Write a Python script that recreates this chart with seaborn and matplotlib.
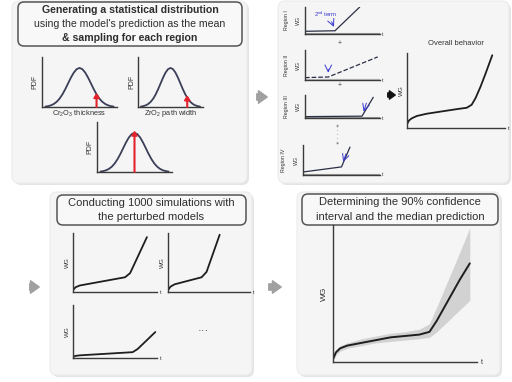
import matplotlib
matplotlib.use("Agg")
import matplotlib.pyplot as plt
import seaborn as sns
from matplotlib.patches import FancyBboxPatch

pdf_x = [-3.0, -2.75, -2.5, -2.25, -2.0, -1.75, -1.5, -1.25, -1.0, -0.75, -0.5, -0.25, 0.0,
         0.25, 0.5, 0.75, 1.0, 1.25, 1.5, 1.75, 2.0, 2.25, 2.5, 2.75, 3.0]
pdf_y = [0.011, 0.023, 0.044, 0.080, 0.135, 0.216, 0.325, 0.458, 0.607, 0.755, 0.882, 0.969, 1.0,
         0.969, 0.882, 0.755, 0.607, 0.458, 0.325, 0.216, 0.135, 0.080, 0.044, 0.023, 0.011]
pdf_labels = ["Cr$_2$O$_3$ thickness", "ZrO$_2$ path width", ""]
sample_pos = [1.5, 1.7, 0.0]
sample_height = [0.36, 0.30, 1.06]

region_names = ["Region I", "Region II", "Region III", "Region IV"]
region_x = [[0.0, 0.40, 0.73], [0.0, 0.31, 0.97], [0.0, 0.76, 0.91], [0.0, 0.50, 0.61]]
region_y = [[0.10, 0.12, 1.0], [0.08, 0.10, 0.77], [0.06, 0.08, 0.90], [0.10, 0.27, 0.93]]
region_base = [0.03, 0.05, 0.04, 0.04]

overall_x = [0.0, 0.02, 0.05, 0.1, 0.2, 0.3, 0.4, 0.5, 0.61, 0.66, 0.7, 0.75, 0.8, 0.87]
overall_y = [0.05, 0.10, 0.13, 0.16, 0.19, 0.21, 0.23, 0.25, 0.27, 0.31, 0.40, 0.55, 0.72, 0.97]

sim_x = [[0.0, 0.03, 0.08, 0.62, 0.68, 0.88],
         [0.0, 0.03, 0.08, 0.41, 0.47, 0.63],
         [0.0, 0.03, 0.08, 0.71, 0.77, 0.98]]
sim_y = [[0.03, 0.08, 0.11, 0.25, 0.32, 0.93],
         [0.03, 0.09, 0.13, 0.25, 0.34, 0.97],
         [0.02, 0.04, 0.05, 0.11, 0.17, 0.49]]

ci_x = [0.0, 0.02, 0.05, 0.1, 0.2, 0.3, 0.4, 0.5, 0.6, 0.67, 0.72, 0.8, 0.88, 0.95]
ci_med = [0.02, 0.07, 0.10, 0.12, 0.14, 0.16, 0.18, 0.19, 0.20, 0.22, 0.30, 0.45, 0.60, 0.72]
ci_up = [0.03, 0.09, 0.12, 0.14, 0.17, 0.19, 0.21, 0.22, 0.24, 0.28, 0.40, 0.60, 0.80, 0.98]
ci_lo = [0.01, 0.05, 0.08, 0.10, 0.12, 0.14, 0.15, 0.16, 0.17, 0.18, 0.22, 0.30, 0.38, 0.45]

W, H = 512, 382
LINE = "#1e1e1e"
AXC = "#3a3a3a"
TXT = "#333333"

sns.set_theme(style="white")
plt.rcParams["font.family"] = ["Liberation Sans", "DejaVu Sans"]
plt.rcParams["mathtext.default"] = "regular"

fig = plt.figure(figsize=(W / 100, H / 100), dpi=100)
fig.patch.set_facecolor("white")

bg = fig.add_axes([0, 0, 1, 1])
bg.set_xlim(0, W)
bg.set_ylim(H, 0)
bg.axis("off")


def panel(x0, y0, x1, y1):
    bg.add_patch(FancyBboxPatch((x0 + 2, y0 + 2), x1 - x0, y1 - y0,
                                boxstyle="round,pad=0,rounding_size=7",
                                fc="#e4e4e4", ec="none", zorder=0))
    bg.add_patch(FancyBboxPatch((x0, y0), x1 - x0, y1 - y0,
                                boxstyle="round,pad=0,rounding_size=7",
                                fc="#f5f5f5", ec="#ececec", lw=0.8, zorder=1))


def title_box(x0, y0, x1, y1, lines, weights, size):
    bg.add_patch(FancyBboxPatch((x0, y0), x1 - x0, y1 - y0,
                                boxstyle="round,pad=0,rounding_size=6",
                                fc="#f8f8f8", ec="#555555", lw=1.1, zorder=2))
    n = len(lines)
    step = (y1 - y0) / (n + 0.1)
    for i, (txt, w) in enumerate(zip(lines, weights)):
        bg.text((x0 + x1) / 2, y0 + step * (i + 0.55), txt, ha="center", va="center",
                fontsize=size, fontweight=w, color="#2e2e2e", zorder=3)


def block_arrow(x0, x1, y, color="#a0a0a0", scale=9):
    bg.annotate("", xy=(x1, y), xytext=(x0, y),
                arrowprops=dict(arrowstyle="simple,head_width=1.0,head_length=0.7,tail_width=0.5",
                                color=color, mutation_scale=scale), zorder=3)


def px_axes(x0, y0, x1, y1):
    ax = fig.add_axes([x0 / W, 1 - y1 / H, (x1 - x0) / W, (y1 - y0) / H])
    ax.set_facecolor("none")
    for s in ["top", "right"]:
        ax.spines[s].set_visible(False)
    for s in ["left", "bottom"]:
        ax.spines[s].set_color(AXC)
        ax.spines[s].set_linewidth(1.0)
    ax.set_xticks([])
    ax.set_yticks([])
    ax.set_xlim(0, 1)
    ax.set_ylim(0, 1)
    return ax


def y_text(ax, label, size, off=-0.09):
    ax.text(off, 0.5, label, transform=ax.transAxes, rotation=90, ha="center", va="center",
            fontsize=size, color=TXT)


def t_label(ax, size=4):
    ax.text(1.03, 0, "t", transform=ax.transAxes, ha="left", va="center", fontsize=size, color=TXT)


# panels
panel(12, 1, 247, 183)
panel(278, 1, 509, 183)
panel(50, 192, 252, 375)
panel(297, 192, 500, 375)

title_box(18, 2, 242, 46,
          ["Generating a statistical distribution",
           "using the model's prediction as the mean",
           "& sampling for each region"],
          ["bold", "normal", "bold"], 7.6)
title_box(57, 195, 246, 225,
          ["Conducting 1000 simulations with", "the perturbed models"],
          ["normal", "normal"], 8)
title_box(302, 194, 498, 225,
          ["Determining the 90% confidence", "interval and the median prediction"],
          ["normal", "normal"], 8)

block_arrow(254, 270, 97)
block_arrow(27, 42, 287)
block_arrow(266, 284, 287)
block_arrow(385, 398, 95, color="#111111", scale=6)

# ---- PDF panels ----
pdf_boxes = [(42, 57, 117, 107), (138, 57, 203, 107), (97, 122, 172, 172)]
for (x0, y0, x1, y1), lab, sp, sh in zip(pdf_boxes, pdf_labels, sample_pos, sample_height):
    ax = px_axes(x0, y0, x1, y1)
    ax.set_xlim(-3.3, 3.3)
    ax.set_ylim(0, 1.28)
    sns.lineplot(x=pdf_x, y=pdf_y, ax=ax, color="#3b3f58", lw=1.3)
    ax.annotate("", xy=(sp, sh), xytext=(sp, 0),
                arrowprops=dict(arrowstyle="-|>,head_width=0.2,head_length=0.3",
                                color="#e3222b", lw=1.5, mutation_scale=8,
                                shrinkA=0, shrinkB=0))
    y_text(ax, "PDF", 5, off=-0.09)
    if lab:
        ax.text(0.5, -0.13, lab, transform=ax.transAxes, ha="center", va="center",
                fontsize=5.3, color=TXT)

# ---- region panels ----
region_boxes = [(305, 7, 380, 34), (305, 50, 380, 80), (305, 95, 380, 118), (303, 145, 380, 175)]
for i, ((x0, y0, x1, y1), name, rx, ry, base) in enumerate(
        zip(region_boxes, region_names, region_x, region_y, region_base)):
    ax = px_axes(x0, y0, x1, y1)
    sns.lineplot(x=[0, 1], y=[base, base], ax=ax, color="#9a9a9a", lw=0.8)
    sns.lineplot(x=[0, 1], y=[base * 0.4, base * 0.4], ax=ax, color="#c4c4c4", lw=0.8)
    sns.lineplot(x=rx, y=ry, ax=ax, color="#2b2f45", lw=0.9,
                 linestyle="--" if i == 1 else "-")
    y_text(ax, "WG", 3.8, off=-0.09)
    y_text(ax, name, 3.8, off=-0.25)
    t_label(ax, 3.5)
    kx, ky = rx[1], ry[1]
    if i == 0:
        ax.text(0.27, 0.72, "2$^{nd}$ term", transform=ax.transAxes, ha="center", va="center",
                fontsize=4.3, color="#3a3ad0")
        ax.annotate("", xy=(kx, ky + 0.05), xytext=(0.34, 0.55),
                    arrowprops=dict(arrowstyle="->", color="#3a3ad0", lw=0.7))
    elif i == 1:
        ax.annotate("", xy=(kx, ky + 0.05), xytext=(kx, 0.45),
                    arrowprops=dict(arrowstyle="->", color="#3a3ad0", lw=0.7))
    else:
        ax.annotate("", xy=(kx + 0.01, ky + 0.08), xytext=(kx + 0.07, ry[2] * 0.85),
                    arrowprops=dict(arrowstyle="->", color="#3a3ad0", lw=0.7))

bg.text(340, 43, "+", ha="center", va="center", fontsize=5, color="#444")
bg.text(340, 86, "+", ha="center", va="center", fontsize=5, color="#444")
bg.text(338, 134, "+ · · · +", ha="center", va="center", fontsize=4.5, rotation=90, color="#444")

# ---- overall behavior ----
ax = px_axes(407, 53, 505, 128)
sns.lineplot(x=overall_x, y=overall_y, ax=ax, color=LINE, lw=1.3)
ax.set_title("Overall behavior", fontsize=5.5, color=TXT, pad=6)
y_text(ax, "WG", 4.5, off=-0.06)
t_label(ax)

# ---- simulations ----
sim_boxes = [(73, 233, 157, 292), (168, 233, 250, 292), (73, 305, 157, 358)]
for (x0, y0, x1, y1), sx, sy in zip(sim_boxes, sim_x, sim_y):
    ax = px_axes(x0, y0, x1, y1)
    sns.lineplot(x=sx, y=sy, ax=ax, color=LINE, lw=1.3)
    y_text(ax, "WG", 4.5, off=-0.07)
    t_label(ax)
bg.text(203, 331, "···", ha="center", va="center", fontsize=8, color="#333")

# ---- confidence interval ----
ax = px_axes(333, 225, 477, 362)
ax.fill_between(ci_x, ci_lo, ci_up, color="#d2d2d2", lw=0)
sns.lineplot(x=ci_x, y=ci_med, ax=ax, color=LINE, lw=1.4)
y_text(ax, "WG", 6, off=-0.06)
t_label(ax, 5)

fig.savefig("out.png", dpi=100)
